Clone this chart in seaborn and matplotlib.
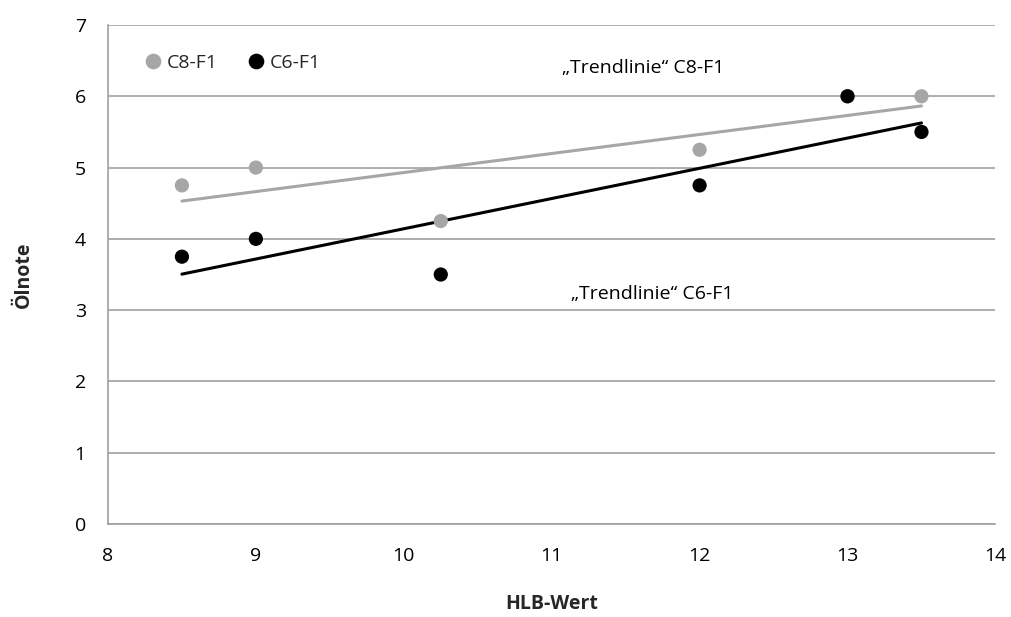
import matplotlib
matplotlib.use("Agg")
import matplotlib.pyplot as plt
import seaborn as sns
import pandas as pd

# HLB values and oil ratings per formulation series
hlb_c8 = [8.5, 9.0, 10.25, 12.0, 13.0, 13.5]
oil_c8 = [4.75, 5.0, 4.25, 5.25, 6.0, 6.0]
hlb_c6 = [8.5, 9.0, 10.25, 12.0, 13.0, 13.5]
oil_c6 = [3.75, 4.0, 3.5, 4.75, 6.0, 5.5]
series_names = ["C8-F1", "C6-F1"]
x_ticks = [8, 9, 10, 11, 12, 13, 14]
y_ticks = [0, 1, 2, 3, 4, 5, 6, 7]

df = pd.concat([
    pd.DataFrame({"HLB": hlb_c8, "Oel": oil_c8, "Serie": series_names[0]}),
    pd.DataFrame({"HLB": hlb_c6, "Oel": oil_c6, "Serie": series_names[1]}),
], ignore_index=True)

sns.set_theme(style="white")
plt.rcParams["font.family"] = ["Open Sans", "DejaVu Sans"]

FS = 14
GRAY = "#a6a6a6"
BLACK = "#000000"
GRID = "#a0a0a0"
palette = {series_names[0]: GRAY, series_names[1]: BLACK}

fig = plt.figure(figsize=(10.11, 6.17), dpi=100)
ax = fig.add_axes([0.1068, 0.1507, 0.8778, 0.8088])

# linear trend lines
for name in series_names:
    sub = df[df["Serie"] == name]
    sns.regplot(data=sub, x="HLB", y="Oel", ax=ax, scatter=False, ci=None,
                truncate=True, color=palette[name],
                line_kws={"linewidth": 2.2, "zorder": 2})

sns.scatterplot(data=df, x="HLB", y="Oel", hue="Serie", palette=palette,
                hue_order=series_names, s=105, edgecolor="none", ax=ax,
                zorder=3)

ax.set_xlim(8, 14)
ax.set_ylim(0, 7)
ax.set_xticks(x_ticks)
ax.set_yticks(y_ticks)
ax.set_xticklabels([str(v) for v in x_ticks], fontsize=FS)
ax.set_yticklabels([str(v) for v in y_ticks], fontsize=FS)

ax.yaxis.grid(True, color=GRID, linewidth=1.2)
ax.xaxis.grid(False)
ax.set_axisbelow(True)

for side in ["top", "right"]:
    ax.spines[side].set_visible(False)
for side in ["left", "bottom"]:
    ax.spines[side].set_color(GRID)
    ax.spines[side].set_linewidth(1.2)

ax.tick_params(axis="both", which="major", length=5, width=1.2, color=GRID,
               direction="out", labelcolor="#000000")
ax.tick_params(axis="x", pad=11.5)
ax.tick_params(axis="y", pad=11)

ax.set_xlabel("HLB-Wert", fontsize=FS, fontweight="bold", labelpad=21)
ax.set_ylabel("Ölnote", fontsize=FS, fontweight="bold", labelpad=29)

ax.text(11.617, 6.33, "„Trendlinie“ C8-F1", fontsize=FS, ha="center",
        va="baseline", color="#000000")
ax.text(11.678, 3.156, "„Trendlinie“ C6-F1", fontsize=FS, ha="center",
        va="baseline", color="#000000")

leg = ax.legend(loc="center left", bbox_to_anchor=(0.042, 0.924), ncol=2,
                frameon=False, fontsize=FS, handlelength=0.8,
                handletextpad=0.3, columnspacing=1.6, borderpad=0,
                borderaxespad=0, markerscale=1.1)

fig.savefig("out.png", dpi=100)
